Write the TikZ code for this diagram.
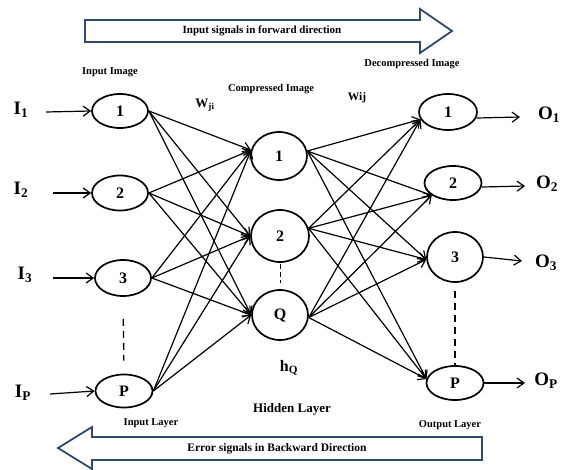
\documentclass[tikz,border=0pt]{standalone}
\usepackage{fontspec}
\setmainfont{Liberation Serif}
\usetikzlibrary{arrows.meta,shapes.geometric}
\definecolor{blockblue}{HTML}{2F4A6B}
\begin{document}
\begin{tikzpicture}[x=1pt,y=-1pt,
  neuron/.style={draw,ellipse,line width=1.7pt,inner sep=0pt,font=\bfseries\fontsize{16}{18}\selectfont},
  lbl/.style={font=\bfseries\fontsize{10.5}{12}\selectfont,inner sep=0pt},
  sig/.style={font=\bfseries\fontsize{19}{21}\selectfont,inner sep=0pt},
  conn/.style={line width=1.2pt,-{Straight Barb[length=7pt,width=10pt,line width=1.2pt]}},
  blockarrow/.style={draw=blockblue,line width=1.8pt,fill=white,line join=miter},
  dashline/.style={line width=1.3pt,dash pattern=on 7pt off 5pt}]
\useasboundingbox (0,0) rectangle (561,470);

% block arrows
\draw[blockarrow] (85,20) -- (420,20) -- (420,9) -- (452,31) -- (420,53) -- (420,42) -- (85,42) -- cycle;
\node[lbl,font=\bfseries\fontsize{11}{12}\selectfont] (fwd) at (262,31) {Input signals in forward direction};
\draw[blockarrow] (482,437) -- (92,437) -- (92,427) -- (58,448) -- (92,469) -- (92,460) -- (482,460) -- cycle;
\node[lbl,font=\bfseries\fontsize{11.5}{12}\selectfont] (bwd) at (277,449) {Error signals in Backward Direction};

% input layer
\node[neuron,minimum width=56pt,minimum height=34pt] (i1) at (120,111) {1};
\node[neuron,minimum width=56pt,minimum height=35pt] (i2) at (120,193) {2};
\node[neuron,minimum width=56pt,minimum height=36pt] (i3) at (123,278) {3};
\node[neuron,minimum width=57pt,minimum height=33pt] (iP) at (124,391) {P};

% hidden layer
\node[neuron,minimum width=56pt,minimum height=48pt] (h1) at (279,156) {1};
\node[neuron,minimum width=58pt,minimum height=52pt] (h2) at (280,236) {2};
\node[neuron,minimum width=56pt,minimum height=50pt] (hQ) at (280,315) {Q};

% output layer
\node[neuron,minimum width=58pt,minimum height=36pt] (o1) at (448,112) {1};
\node[neuron,minimum width=57pt,minimum height=34pt] (o2) at (453,183) {2};
\node[neuron,minimum width=56pt,minimum height=50pt] (o3) at (455,257) {3};
\node[neuron,minimum width=57pt,minimum height=34pt] (oP) at (455,383) {P};

% input signals
\node[sig] (I1) at (21,110) {I\textsubscript{1}};
\node[sig] (I2) at (21,190) {I\textsubscript{2}};
\node[sig] (I3) at (25,275) {I\textsubscript{3}};
\node[sig] (IP) at (23,393) {I\textsubscript{P}};
\coordinate (a1) at (46,112);
\coordinate (a2) at (53,193);
\coordinate (a3) at (53,278);
\coordinate (aP) at (50,394);
\draw[conn] (a1) -- (i1.west);
\draw[conn] (a2) -- (i2.west);
\draw[conn] (a3) -- (i3.west);
\draw[conn] (aP) -- (iP.west);

% output signals
\node[sig] (O1) at (549,115) {O\textsubscript{1}};
\node[sig] (O2) at (547,184) {O\textsubscript{2}};
\node[sig] (O3) at (546,263) {O\textsubscript{3}};
\node[sig] (OP) at (546,381) {O\textsubscript{P}};
\coordinate (b1) at (520,117);
\coordinate (b2) at (525,186);
\coordinate (b3) at (522,261);
\coordinate (bP) at (525,383);
\draw[conn] (o1.-12) -- (b1);
\draw[conn] (o2.-8) -- (b2);
\draw[conn] (o3.east) -- (b3);
\draw[conn] (oP.east) -- (bP);

% input -> hidden
\foreach \s in {i1,i2,i3,iP}{
  \draw[conn] (\s.east) -- (h1.168);
  \draw[conn] (\s.east) -- (h2.west);
  \draw[conn] (\s.east) -- (hQ.west);
}
% hidden -> output
\foreach \s/\a in {h1/10,h2/15,hQ/-5}{
  \draw[conn] (\s.\a) -- (o1.195);
  \draw[conn] (\s.\a) -- (o2.210);
  \draw[conn] (\s.\a) -- (o3.185);
  \draw[conn] (\s.\a) -- (oP.172);
}

% dashed continuation lines
\draw[dashline,shorten <=22pt,shorten >=13pt] (i3.south) -- (iP.north);
\draw[line width=1pt,dash pattern=on 5pt off 3pt,shorten <=1pt,shorten >=6pt] (h2.south) -- (hQ.north);
\draw[dashline,shorten <=8pt] (o3.south) -- (oP.north);

% labels
\node[lbl] (inimg) at (110,72) {Input Image};
\node[lbl] (cmpimg) at (271,89) {Compressed Image};
\node[lbl] (decimg) at (412,64) {Decompressed Image};
\node[lbl,font=\bfseries\fontsize{13}{14}\selectfont] (wji) at (205,105) {W\textsubscript{ji}};
\node[lbl,font=\bfseries\fontsize{11.5}{13}\selectfont] (wij) at (357,98) {Wij};
\node[lbl,font=\bfseries\fontsize{16}{17}\selectfont] (hq) at (289,368) {h\textsubscript{Q}};
\node[lbl] (inlayer) at (151,423) {Input Layer};
\node[lbl,font=\bfseries\fontsize{13}{14}\selectfont] (hidlayer) at (292,409) {Hidden Layer};
\node[lbl] (outlayer) at (450,425) {Output Layer};
\end{tikzpicture}
\end{document}
